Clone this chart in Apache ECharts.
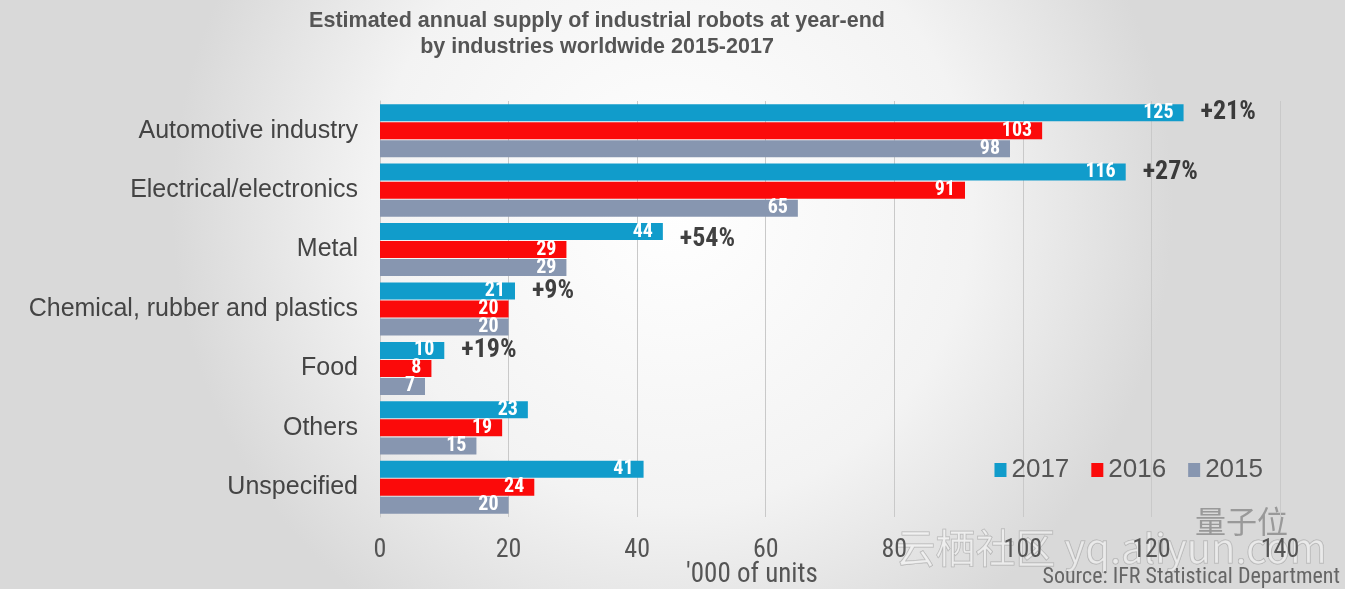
<!DOCTYPE html>
<html><head><meta charset="utf-8">
<script src="https://cdn.jsdelivr.net/npm/echarts@6/dist/echarts.min.js"></script>
<style>html,body{margin:0;padding:0;}#c{width:1345px;height:589px;}</style>
</head><body><div id="c"></div>
<script>
const categories = ['Automotive industry','Electrical/electronics','Metal','Chemical, rubber and plastics','Food','Others','Unspecified'];
const v2017 = [125,116,44,21,10,23,41];
const v2016 = [103,91,29,20,8,19,24];
const v2015 = [98,65,29,20,7,15,20];
const growth = ['+21%','+27%','+54%','+9%','+19%',null,null];
const xTicks = [0,20,40,60,80,100,120,140];

const narrow = "'Liberation Sans Narrow','Arial Narrow','Roboto Condensed','Liberation Sans',Arial,sans-serif";
const sans = "'Liberation Sans',Arial,sans-serif";
const valLabel = {show:true, position:'insideRight', color:'#fff', fontFamily:narrow, fontWeight:'bold', fontSize:20, distance:10};
const chart = echarts.init(document.getElementById('c'));
chart.setOption({
  backgroundColor: {type:'radial', x:0.5, y:0.35, r:0.85, colorStops:[{offset:0,color:'#ffffff'},{offset:0.6,color:'#f3f3f3'},{offset:1,color:'#d9d9d9'}]},
  animation:false,
  title:{text:'Estimated annual supply of industrial robots at year-end\nby industries worldwide 2015-2017', left:592, textAlign:'center', top:3,
    textStyle:{fontFamily:sans, fontWeight:'bold', fontSize:21.5, color:'#555', lineHeight:26}},
  legend:{data:['2017','2016','2015'], right:77, top:452, itemWidth:12, itemHeight:14, itemGap:22, icon:'rect',
    textStyle:{fontFamily:sans, fontSize:26, color:'#555'}},
  grid:{left:380, right:65, top:101, bottom:72},
  xAxis:{type:'value', min:0, max:140, interval:20,
    axisLine:{show:false}, axisTick:{show:false},
    splitLine:{show:true, lineStyle:{color:'#c9c9c9', width:1}},
    axisLabel:{margin:20, fontFamily:narrow, fontSize:26, color:'#555', formatter:v=> xTicks.includes(v)? String(v):''}},
  yAxis:{type:'category', data:categories, inverse:true,
    axisLine:{show:true, lineStyle:{color:'#c9c9c9'}}, axisTick:{show:false},
    axisLabel:{margin:22, fontFamily:sans, fontSize:25, color:'#444'}},
  series:[
    {name:'2017', type:'bar', data:v2017, barWidth:17, barGap:'6%', itemStyle:{color:'#119ccb'}, label:valLabel},
    {name:'2016', type:'bar', data:v2016, barWidth:17, barGap:'6%', itemStyle:{color:'#fb0a0a'}, label:valLabel},
    {name:'2015', type:'bar', data:v2015, barWidth:17, barGap:'6%', itemStyle:{color:'#8796b0'}, label:valLabel},
    {name:'growth', type:'scatter', symbolSize:0, silent:true,
      data: v2017.map((v,i)=> growth[i] ? {value:[v, categories[i]], g:growth[i], label: i===2 ? {offset:[12,-10]} : undefined} : null).filter(Boolean),
      label:{show:true, position:'right', offset:[12,-18], formatter:p=>p.data.g, color:'#111', fontFamily:narrow, fontWeight:'bold', fontSize:26}}
  ],
  graphic:[
    {type:'text', left:686, top:562, style:{text:"'000 of units", fontFamily:narrow, fontSize:27, fill:'#555'}},
    {type:'text', left:895, top:527, style:{text:'云栖社区 yq.aliyun.com', fontFamily:'Noto Sans CJK SC', fontSize:40, fill:'rgba(255,255,255,0.45)', stroke:'rgba(130,130,130,0.5)', lineWidth:1}},
    {type:'text', left:1195, top:506, style:{text:'量子位', fontFamily:'Noto Sans CJK SC', fontSize:31, fill:'rgba(110,110,110,0.6)'}},
    {type:'text', right:5, top:566, style:{text:'Source: IFR Statistical Department', fontFamily:narrow, fontSize:22, fill:'#666'}}
  ]
});
</script></body></html>
